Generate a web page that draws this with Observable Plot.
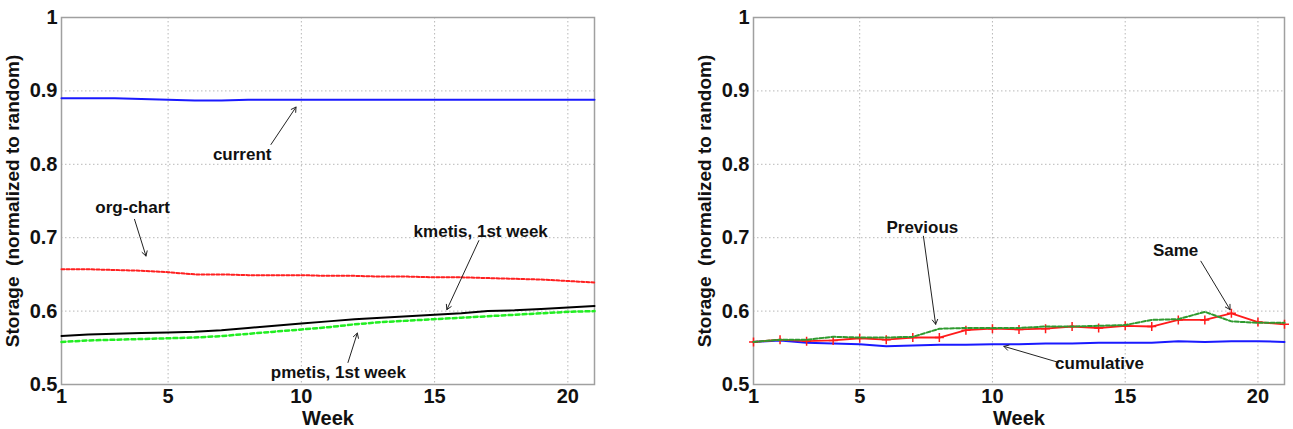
<!DOCTYPE html>
<html>
<head>
<meta charset="utf-8">
<script src="https://cdn.jsdelivr.net/npm/d3@7"></script>
<script src="https://cdn.jsdelivr.net/npm/@observablehq/plot@0.6"></script>
<style>
  html, body { margin: 0; padding: 0; background: #fff; }
  #wrap { position: relative; width: 1293px; height: 429px; overflow: hidden; }
  #left { position: absolute; left: 0; top: 0; }
  #right { position: absolute; left: 640px; top: 0; }
</style>
</head>
<body>
<div id="wrap"><div id="left"></div><div id="right"></div></div>
<script>
// ---- data ----
const weeks = [1,2,3,4,5,6,7,8,9,10,11,12,13,14,15,16,17,18,19,20,21];
const xTicks = [1, 5, 10, 15, 20];
const yTicks = [0.5, 0.6, 0.7, 0.8, 0.9, 1];
const yLabel = "Storage  (normalized to random)";
const xLabel = "Week";

// left panel series
const current  = [0.890,0.890,0.890,0.889,0.888,0.887,0.887,0.888,0.888,0.888,0.888,0.888,0.888,0.888,0.888,0.888,0.888,0.888,0.888,0.888,0.888];
const orgChart = [0.657,0.657,0.656,0.655,0.653,0.650,0.650,0.649,0.649,0.649,0.648,0.648,0.647,0.647,0.646,0.646,0.645,0.644,0.643,0.641,0.639];
const kmetis   = [0.566,0.568,0.569,0.570,0.571,0.572,0.574,0.577,0.580,0.583,0.586,0.589,0.591,0.593,0.595,0.597,0.600,0.601,0.603,0.605,0.607];
const pmetis   = [0.558,0.560,0.561,0.562,0.563,0.564,0.566,0.569,0.572,0.575,0.578,0.582,0.585,0.587,0.589,0.591,0.593,0.595,0.597,0.599,0.600];

// right panel series
const same       = [0.558,0.561,0.559,0.560,0.563,0.561,0.564,0.564,0.574,0.576,0.575,0.576,0.579,0.577,0.580,0.579,0.588,0.588,0.597,0.585,0.582];
const previous   = [0.558,0.561,0.561,0.565,0.564,0.564,0.565,0.576,0.577,0.577,0.577,0.579,0.579,0.580,0.581,0.588,0.589,0.599,0.586,0.584,0.584];
const cumulative = [0.558,0.560,0.557,0.556,0.555,0.552,0.553,0.554,0.554,0.555,0.555,0.556,0.556,0.557,0.557,0.557,0.559,0.558,0.559,0.559,0.558];

// annotations (text position and arrow in data coordinates)
const leftNotes = [
  {label: "current",          tx: 7.78,  ty: 0.813, x1: 8.86,  y1: 0.827, x2: 9.80,  y2: 0.878},
  {label: "org-chart",        tx: 3.67,  ty: 0.741, x1: 3.74,  y1: 0.725, x2: 4.17,  y2: 0.675},
  {label: "kmetis, 1st week", tx: 16.73, ty: 0.709, x1: 16.66, y1: 0.696, x2: 15.46, y2: 0.602},
  {label: "pmetis, 1st week", tx: 11.39, ty: 0.516, x1: 11.75, y1: 0.530, x2: 12.10, y2: 0.570}
];
const rightNotes = [
  {label: "Previous",   tx: 7.36,  ty: 0.714, x1: 7.40,  y1: 0.702, x2: 7.86,  y2: 0.582},
  {label: "Same",       tx: 16.90, ty: 0.683, x1: 17.85, y1: 0.668, x2: 18.95, y2: 0.602},
  {label: "cumulative", tx: 14.03, ty: 0.528, x1: 12.50, y1: 0.530, x2: 10.43, y2: 0.552}
];

// ---- helpers ----
const series = arr => weeks.map((w, i) => ({week: w, value: arr[i]}));
const FONT = "'Liberation Sans', Arial, Helvetica, sans-serif";

function panel(width, marginLeft, marginRight, lineMarks, notes) {
  return Plot.plot({
    width, height: 429,
    marginLeft, marginRight, marginTop: 17, marginBottom: 45,
    style: {fontFamily: FONT, fontWeight: "bold", background: "#fff", color: "#111"},
    x: {domain: [1, 21]},
    y: {domain: [0.5, 1]},
    marks: [
      Plot.gridX(xTicks, {stroke: "#b8b8b8", strokeOpacity: 1, strokeDasharray: "1.5,2.5"}),
      Plot.gridY(yTicks, {stroke: "#b8b8b8", strokeOpacity: 1, strokeDasharray: "1.5,2.5"}),
      Plot.frame({stroke: "#a0a0a0", strokeWidth: 1.5}),
      Plot.axisX({ticks: xTicks, tickSize: 0, tickPadding: 4, fontSize: 20, fontWeight: "bold", label: null, tickFormat: d3.format("d")}),
      Plot.axisY({ticks: yTicks, tickSize: 0, tickPadding: 4, fontSize: 20, fontWeight: "bold", label: null, tickFormat: d => String(+d.toFixed(1))}),
      Plot.text([xLabel], {frameAnchor: "bottom", dy: 34, fontSize: 20, fontWeight: "bold", lineAnchor: "middle"}),
      Plot.text([yLabel], {frameAnchor: "left", dx: -49, rotate: -90, fontSize: 19, fontWeight: "bold", textAnchor: "middle", lineAnchor: "middle"}),
      ...lineMarks,
      Plot.arrow(notes, {x1: "x1", y1: "y1", x2: "x2", y2: "y2", stroke: "#222", strokeWidth: 1, headLength: 8, bend: 0}),
      Plot.text(notes, {x: "tx", y: "ty", text: "label", fontSize: 17, fontWeight: "bold", fill: "#111", lineAnchor: "middle"})
    ]
  });
}

const leftMarks = [
  Plot.line(series(current),  {x: "week", y: "value", stroke: "#1a1aff", strokeWidth: 2}),
  Plot.line(series(orgChart), {x: "week", y: "value", stroke: "#ff2020", strokeWidth: 2, strokeDasharray: "3,2"}),
  Plot.line(series(kmetis),   {x: "week", y: "value", stroke: "#000", strokeWidth: 2}),
  Plot.line(series(pmetis),   {x: "week", y: "value", stroke: "#22ee22", strokeWidth: 2.5, strokeDasharray: "4,3"})
];
const rightMarks = [
  Plot.line(series(cumulative), {x: "week", y: "value", stroke: "#1a1aff", strokeWidth: 2}),
  Plot.line(series(same),       {x: "week", y: "value", stroke: "#ff1a1a", strokeWidth: 1.8}),
  Plot.dot(series(same),        {x: "week", y: "value", symbol: "plus", r: 3, stroke: "#ff1a1a", strokeWidth: 1.5}),
  Plot.line(series(previous),   {x: "week", y: "value", stroke: "#2f9a2f", strokeWidth: 2, strokeDasharray: "4,2"})
];

document.getElementById("left").append(panel(640, 61, 46, leftMarks, leftNotes));
document.getElementById("right").append(panel(653, 113, 9, rightMarks, rightNotes));
</script>
</body>
</html>
